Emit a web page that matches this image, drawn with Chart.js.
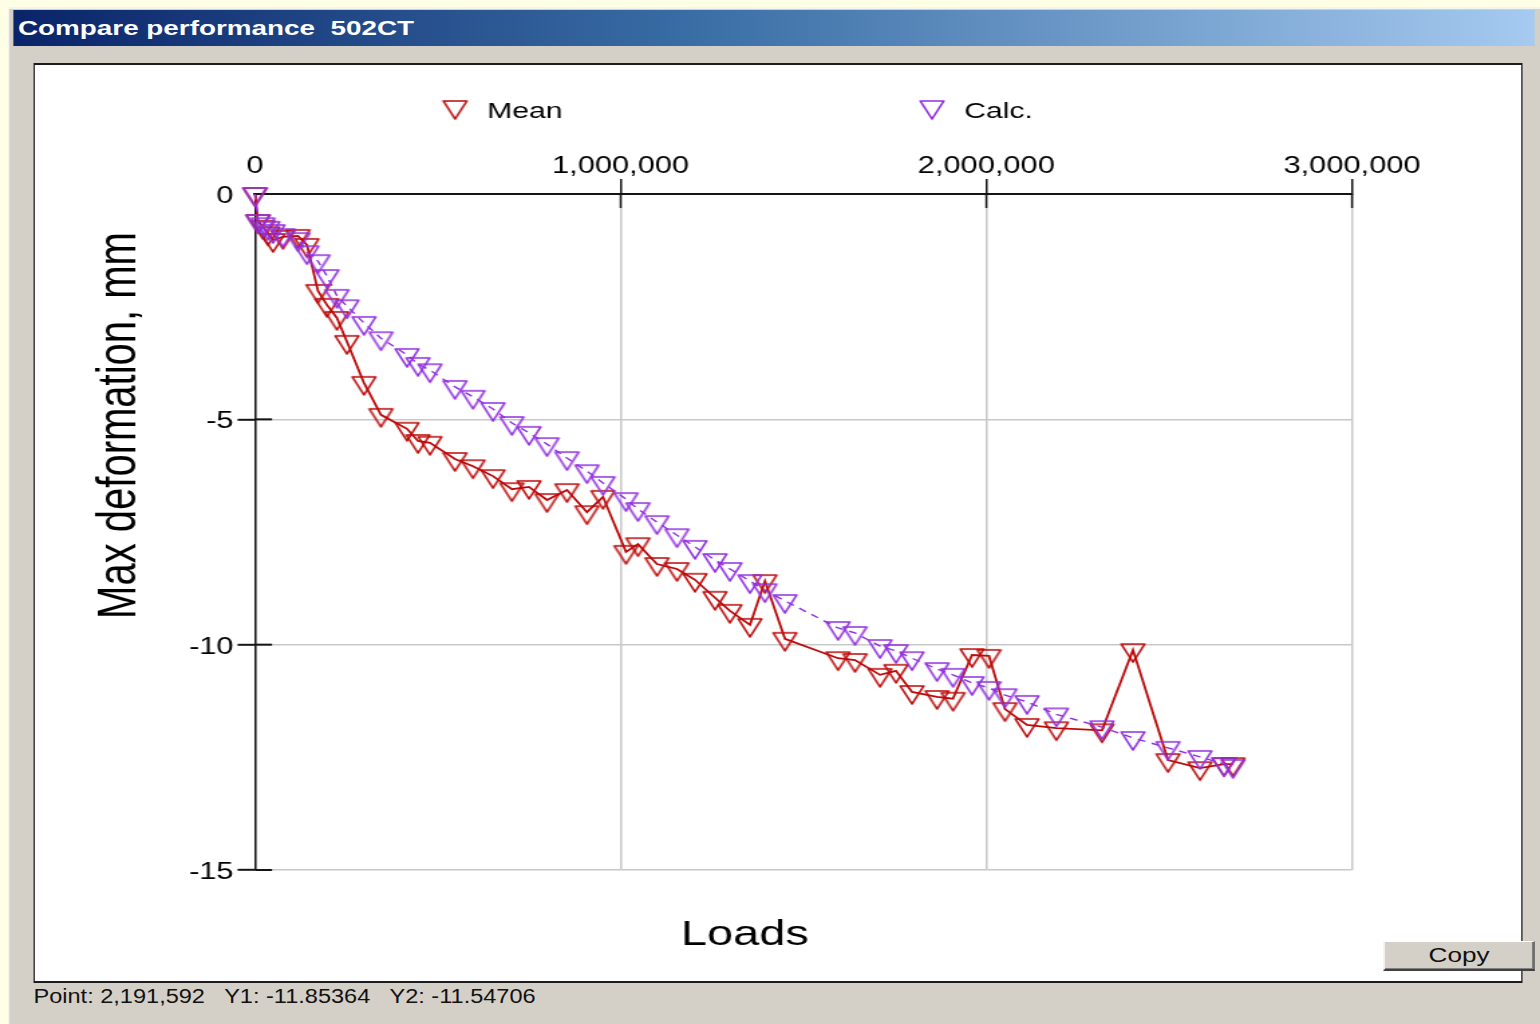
<!DOCTYPE html>
<html>
<head>
<meta charset="utf-8">
<script src="https://cdn.jsdelivr.net/npm/chart.js@4/dist/chart.umd.min.js"></script>
<style>
  html, body { margin: 0; padding: 0; width: 1540px; height: 1024px; overflow: hidden; background: #FFFFE6; }
  #stage { position: absolute; left: 0; top: 0; width: 1150px; height: 1024px; transform-origin: 0 0; transform: scaleX(1.33913); }
  #win { position: absolute; left: 6px; top: 7px; width: 1144px; height: 1017px; background: #D4D0C8;
         border-left: 1px solid #F6F4EE; border-top: 2px solid #F6F4EE; box-sizing: border-box; }
  #bar { position: absolute; left: 9.7px; top: 10px; width: 1136.6px; height: 36px;
         background: linear-gradient(to right, #0A246A 0%, #3A6EA5 45%, #A6CAF0 100%);
         color: #fff; font: bold 20.8px "Liberation Sans", Arial, sans-serif; line-height: 36px;
         white-space: pre; padding-left: 3.7px; box-sizing: border-box; }
  #panel { position: absolute; left: 24.6px; top: 63px; width: 1112px; height: 920px; background: #fff;
           border-style: solid; border-color: #1c1c1c; border-width: 2px 1.5px; box-sizing: border-box; }
  #chart { position: absolute; left: 26px; top: 65px; }
  #copy { position: absolute; left: 1032.8px; top: 941px; width: 113.5px; height: 30px; box-sizing: border-box;
          background: #D4D0C8; border-style: solid; border-width: 1px 1.5px 2px 1px;
          border-color: #FFFFFF #404040 #404040 #FFFFFF; box-shadow: inset -1px -1px 0 #808080;
          font: 19.5px "Liberation Sans", Arial, sans-serif; line-height: 27px; text-align: center; color: #111; }
  #status { position: absolute; left: 24.6px; top: 986px; font: 20.5px "Liberation Sans", Arial, sans-serif;
            line-height: 20px; white-space: pre; color: #111; transform-origin: 0 0; }
</style>
</head>
<body>
<div id="stage">
  <div id="win"></div>
  <div id="bar">Compare performance  502CT</div>
  <div id="panel"></div>
  <canvas id="chart" width="1109" height="916"></canvas>
  <div id="copy">Copy</div>
  <div id="status"></div>
</div>
<script>
// Loads applied (shared by both series)
const loads = [
  0, 8200, 21900, 35600, 49200, 76600, 117600, 142200, 172300, 196900,
  224200, 251600, 298100, 344600, 415700, 445800, 478600, 546900, 596200, 650900,
  702800, 749300, 798500, 853200, 907900, 951700, 1014600, 1047400, 1099300, 1154000,
  1203300, 1258000, 1299000, 1353700, 1394700, 1449400, 1594300, 1640800, 1709200, 1753000,
  1796700, 1865100, 1908800, 1960800, 2007300, 2051000, 2111200, 2191592, 2316300, 2401100,
  2496800, 2584300, 2650000, 2674600
];
// Measured mean deformation, mm
const meanDef = [
  0, -0.60, -0.73, -0.87, -1.02, -0.95, -0.93, -1.13, -2.15, -2.46,
  -2.75, -3.28, -4.19, -4.90, -5.21, -5.48, -5.52, -5.88, -6.04, -6.26,
  -6.55, -6.50, -6.79, -6.57, -7.06, -6.72, -7.94, -7.77, -8.21, -8.32,
  -8.56, -8.96, -9.25, -9.56, -8.59, -9.87, -10.30, -10.34, -10.67, -10.58,
  -11.05, -11.16, -11.20, -10.23, -10.25, -11.43, -11.78, -11.85364, -11.90, -10.12,
  -12.56, -12.74, -12.65, -12.65
];
// Calculated deformation, mm
const calcDef = [
  0, -0.60, -0.67, -0.75, -0.82, -0.91, -1.00, -1.29, -1.49, -1.82,
  -2.26, -2.49, -2.86, -3.20, -3.57, -3.77, -3.91, -4.28, -4.50, -4.77,
  -5.08, -5.30, -5.55, -5.86, -6.15, -6.41, -6.77, -6.99, -7.28, -7.57,
  -7.83, -8.12, -8.32, -8.59, -8.79, -9.03, -9.63, -9.74, -10.03, -10.14,
  -10.30, -10.54, -10.67, -10.85, -10.96, -11.12, -11.27, -11.54706, -11.83, -12.07,
  -12.29, -12.49, -12.65, -12.69
];
const seriesNames = ['Mean', 'Calc.'];
const xTicks = [0, 1000000, 2000000, 3000000];
const yTicks = [0, -5, -10, -15];
const xTitle = 'Loads';
const yTitle = 'Max deformation, mm';
const selectedLoad = 2191592;

const RED = '#BC0A0A';
const PURPLE = '#9030E0';
const AXIS = '#141414';
const GRID = '#C8C8C8';
const FONT = '"Liberation Sans", Arial, sans-serif';

// Hollow down-pointing triangle marker, centroid at the image centre
function triangleMark(color) {
  const c = document.createElement('canvas');
  c.width = 24; c.height = 30;
  const g = c.getContext('2d');
  const w = 17.5, h = 18, cx = c.width / 2, top = c.height / 2 - h / 3;
  g.strokeStyle = color; g.lineWidth = 1.7; g.lineJoin = 'round';
  g.beginPath();
  g.moveTo(cx - w / 2, top); g.lineTo(cx + w / 2, top); g.lineTo(cx, top + h);
  g.closePath(); g.stroke();
  return c;
}
const redMark = triangleMark(RED);
const purpleMark = triangleMark(PURPLE);

// Inner halves of the crossing tick marks
const crossTicks = {
  id: 'crossTicks',
  beforeDatasetsDraw(chart) {
    const { ctx, chartArea: a, scales: { x, y } } = chart;
    ctx.save();
    ctx.strokeStyle = AXIS;
    ctx.lineWidth = 1.5;
    x.ticks.forEach(t => {
      if (t.value === 0) return;
      const px = x.getPixelForValue(t.value);
      ctx.beginPath(); ctx.moveTo(px, a.top); ctx.lineTo(px, a.top + 14); ctx.stroke();
    });
    ctx.lineWidth = 2;
    y.ticks.forEach(t => {
      if (t.value === 0) return;
      const py = y.getPixelForValue(t.value);
      ctx.beginPath(); ctx.moveTo(a.left, py); ctx.lineTo(a.left + 12.7, py); ctx.stroke();
    });
    ctx.restore();
  }
};

// Axis titles and the series key
const annotations = {
  id: 'annotations',
  afterDraw(chart) {
    const { ctx } = chart;
    ctx.save();
    ctx.fillStyle = '#000';
    // vertical axis title
    ctx.font = '40px ' + FONT;
    ctx.translate(74.8, 360.5);
    ctx.rotate(-Math.PI / 2);
    ctx.textAlign = 'center'; ctx.textBaseline = 'alphabetic';
    ctx.fillText(yTitle, 0, 0);
    ctx.setTransform(1, 0, 0, 1, 0, 0);
    // horizontal axis title
    ctx.font = '35px ' + FONT;
    ctx.fillText(xTitle, 530.3, 880);
    // key
    ctx.textAlign = 'left';
    ctx.font = '22.5px ' + FONT;
    const keys = [
      { mark: redMark, name: seriesNames[0], mx: 313.8, tx: 337.7 },
      { mark: purpleMark, name: seriesNames[1], mx: 670.0, tx: 693.9 }
    ];
    keys.forEach(k => {
      ctx.drawImage(k.mark, k.mx - k.mark.width / 2, 42 - k.mark.height / 2);
      ctx.fillText(k.name, k.tx, 52.5);
    });
    ctx.restore();
  }
};

const hideOrigin = ctx => (ctx.tick && ctx.tick.value === 0) ? 'rgba(0,0,0,0)' : AXIS;

new Chart(document.getElementById('chart'), {
  type: 'scatter',
  data: {
    datasets: [
      {
        label: seriesNames[0],
        data: loads.map((x, i) => ({ x, y: meanDef[i] })),
        showLine: true, borderColor: RED, borderWidth: 1.8,
        pointStyle: redMark, pointRadius: 10, pointHoverRadius: 10,
        clip: false, order: 1
      },
      {
        label: seriesNames[1],
        data: loads.map((x, i) => ({ x, y: calcDef[i] })),
        showLine: true, borderColor: PURPLE, borderWidth: 1.4, borderDash: [6, 5],
        pointStyle: purpleMark, pointRadius: 10, pointHoverRadius: 10,
        clip: false, order: 0
      }
    ]
  },
  options: {
    responsive: false,
    animation: false,
    locale: 'en-US',
    layout: { padding: { left: 0, top: 0, right: 125.4, bottom: 111 } },
    plugins: { legend: { display: false }, tooltip: { enabled: false } },
    scales: {
      x: {
        type: 'linear', position: 'top',
        min: xTicks[0], max: xTicks[xTicks.length - 1],
        afterBuildTicks: s => { s.ticks = xTicks.map(v => ({ value: v })); },
        ticks: { color: '#000', font: { family: FONT, size: 23 }, padding: -1, maxRotation: 0, autoSkip: false },
        grid: { color: GRID, lineWidth: 1.5, tickLength: 15, tickColor: hideOrigin, tickWidth: 1.5 },
        border: { color: AXIS, width: 2 },
        afterFit: s => { s.height = 129; }
      },
      y: {
        type: 'linear',
        min: yTicks[yTicks.length - 1], max: yTicks[0],
        afterBuildTicks: s => { s.ticks = yTicks.slice().reverse().map(v => ({ value: v })); },
        ticks: { color: '#000', font: { family: FONT, size: 23 }, padding: 3, labelOffset: 2.5, autoSkip: false },
        grid: { color: GRID, lineWidth: 1.6, tickLength: 13, tickColor: hideOrigin, tickWidth: 2 },
        border: { color: AXIS, width: 1.5 },
        afterFit: s => { s.width = 164.4; }
      }
    }
  },
  plugins: [crossTicks, annotations]
});

// Readout for the selected load
const k = loads.indexOf(selectedLoad);
const status = document.getElementById('status');
status.textContent = 'Point: ' + loads[k].toLocaleString('en-US') +
  '   Y1: ' + meanDef[k] + '   Y2: ' + calcDef[k];
const wNow = status.getBoundingClientRect().width / 1.33913;
status.style.transform = 'scaleX(' + (375 / wNow) + ')';
</script>
</body>
</html>
